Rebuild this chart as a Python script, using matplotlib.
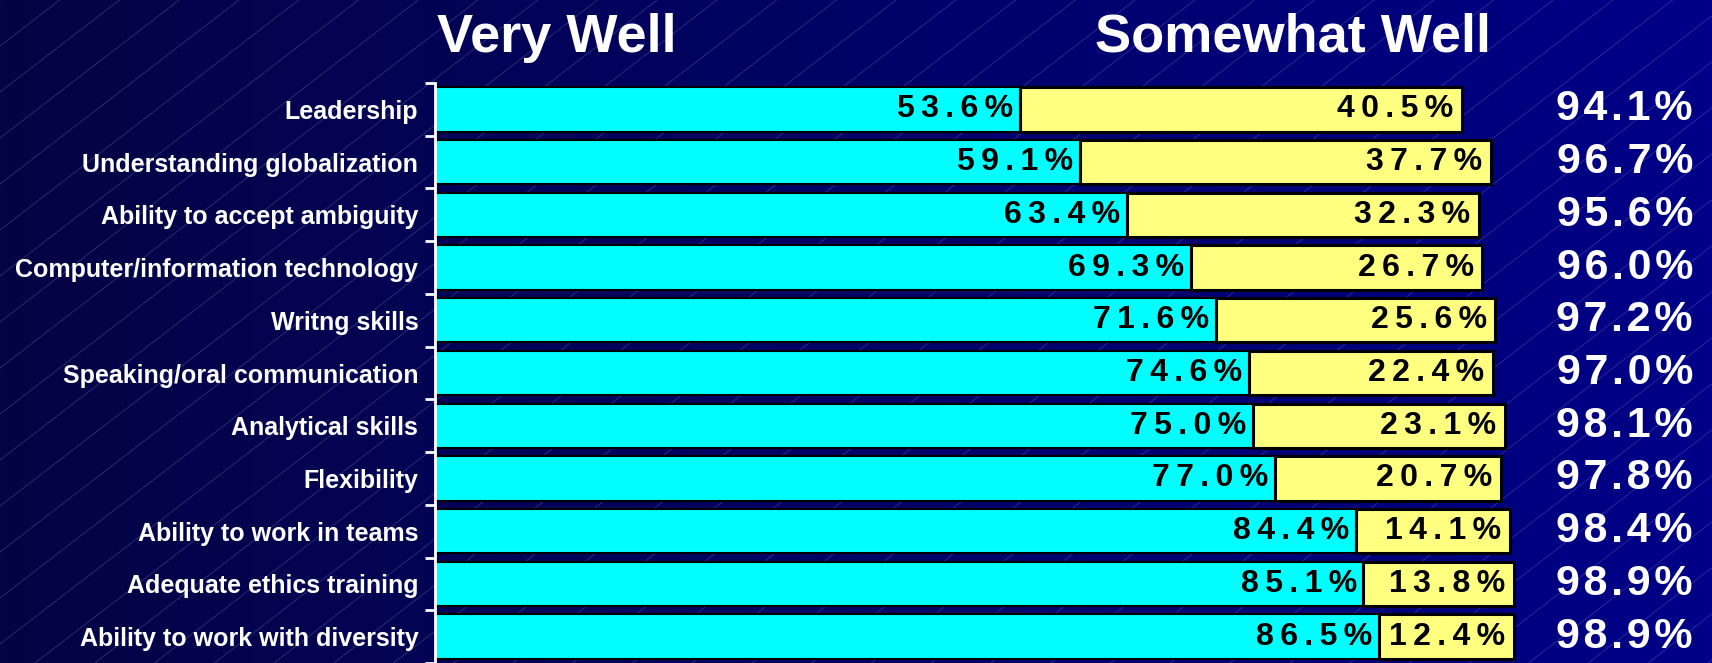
import numpy as np
import matplotlib.pyplot as plt
from matplotlib.colors import LinearSegmentedColormap

# --- data ---
categories = [
    "Leadership",
    "Understanding globalization",
    "Ability to accept ambiguity",
    "Computer/information technology",
    "Writng skills",
    "Speaking/oral communication",
    "Analytical skills",
    "Flexibility",
    "Ability to work in teams",
    "Adequate ethics training",
    "Ability to work with diversity",
]
very_well = [53.6, 59.1, 63.4, 69.3, 71.6, 74.6, 75.0, 77.0, 84.4, 85.1, 86.5]
somewhat_well = [40.5, 37.7, 32.3, 26.7, 25.6, 22.4, 23.1, 20.7, 14.1, 13.8, 12.4]
totals = [94.1, 96.7, 95.6, 96.0, 97.2, 97.0, 98.1, 97.8, 98.4, 98.9, 98.9]

W, H = 1712, 663
FONT = ["Liberation Sans", "DejaVu Sans"]
CYAN = "#00FFFF"
YELLOW = "#FFFF80"
THIN = "\u2009"
HAIR = "\u200a"


def spaced(s, sep):
    return sep.join(s)


fig = plt.figure(figsize=(W / 100, H / 100), dpi=100)

# --- background: gradient + faint diagonal lines ---
bg = fig.add_axes([0, 0, 1, 1])
cmap = LinearSegmentedColormap.from_list("bg", ["#040444", "#000088"])
grad = np.linspace(0, 1, 256)[None, :]
bg.imshow(grad, cmap=cmap, aspect="auto", extent=[0, W, H, 0])
slope = 0.77
for c in np.arange(0, H + slope * W + 60, 46):
    bg.plot([0, W], [c, c - slope * W], color="#9090d0", lw=0.6, alpha=0.32)
bg.set_xlim(0, W)
bg.set_ylim(H, 0)
bg.axis("off")

# --- bar axes ---
left_px, right_px, top_px = 435, 1526, 83
row_px = 53.6
n_rows_visible = (H - top_px) / row_px
ax = fig.add_axes([left_px / W, 0, (right_px - left_px) / W, 1 - top_px / H])
ax.patch.set_alpha(0)
ax.set_xlim(0, 100)
ax.set_ylim(n_rows_visible - 0.5, -0.5)

y = np.arange(len(categories))
bh = 0.84
ax.barh(y, very_well, height=bh, color=CYAN, edgecolor="black", linewidth=1.5)
ax.barh(y, somewhat_well, left=very_well, height=bh, color=YELLOW,
        edgecolor="black", linewidth=2.2)

for i in range(len(categories)):
    ax.text(very_well[i] - 0.6, y[i], spaced(f"{very_well[i]:.1f}%", THIN),
            ha="right", va="center", fontsize=23, fontweight="bold",
            family=FONT, color="black")
    end = very_well[i] + somewhat_well[i]
    ax.text(end - 0.8, y[i], spaced(f"{somewhat_well[i]:.1f}%", THIN),
            ha="right", va="center", fontsize=23, fontweight="bold",
            family=FONT, color="black")
    ax.text(115.3, y[i], spaced(f"{totals[i]:.1f}%", HAIR),
            ha="right", va="center", fontsize=31, fontweight="bold",
            family=FONT, color="white", clip_on=False)

# axis styling
for s in ["top", "right", "bottom"]:
    ax.spines[s].set_visible(False)
ax.spines["left"].set_color("white")
ax.spines["left"].set_linewidth(2)
ax.set_xticks([])
ax.set_yticks(y)
ax.set_yticklabels(categories, fontsize=18, fontweight="bold", family=FONT,
                   color="white")
ax.tick_params(axis="y", which="major", length=0, pad=12)
ax.set_yticks(np.arange(-0.5, len(categories), 1), minor=True)
ax.tick_params(axis="y", which="minor", length=7, width=2, color="white")

# headers
fig.text(437 / W, 1 - 52 / H, "Very Well", fontsize=39, fontweight="bold",
         family=FONT, color="white", ha="left", va="baseline")
fig.text(1095 / W, 1 - 52 / H, "Somewhat Well", fontsize=39, fontweight="bold",
         family=FONT, color="white", ha="left", va="baseline")

fig.savefig("out.png", dpi=100)
